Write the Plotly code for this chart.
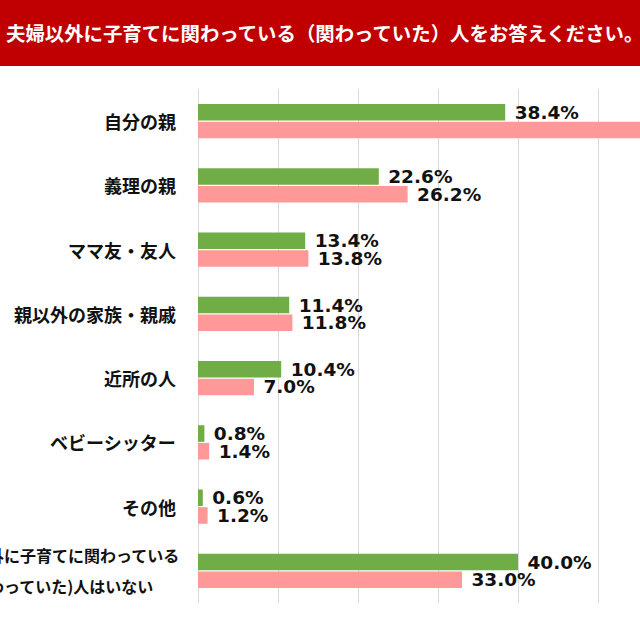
import plotly.graph_objects as go

categories = ["自分の親", "義理の親", "ママ友・友人", "親以外の家族・親戚", "近所の人",
              "ベビーシッター", "その他", "夫婦以外に子育てに関わっている\n(関わっていた)人はいない"]
series_a = [38.4, 22.6, 13.4, 11.4, 10.4, 0.8, 0.6, 40.0]
series_b = [57.0, 26.2, 13.8, 11.8, 7.0, 1.4, 1.2, 33.0]
title_text = "夫婦以外に子育てに関わっている（関わっていた）人をお答えください。"

W, H = 640, 640
L, R, T, B = 198, 0, 89, 37
pw, ph = W - L - R, H - T - B

JP = "Noto Sans CJK JP"
NUM = "DejaVu Sans"

fig = go.Figure()
for name, vals, col in [("系列1", series_a, "#70AD47"), ("系列2", series_b, "#FF9999")]:
    fig.add_trace(go.Bar(
        y=categories, x=vals, orientation="h", name=name,
        marker=dict(color=col, line=dict(width=0)),
        texttemplate="\u00a0%{x:.1f}%", textposition="outside",
        constraintext="none", cliponaxis=True,
        textfont=dict(family=NUM, size=18.5, color="#111111", weight="bold"),
        hoverinfo="skip",
    ))

# category labels
for c in categories:
    lines = c.split("\n")
    if len(lines) == 1:
        fig.add_annotation(x=(178 - L) / pw, xref="paper", y=c, yref="y", text=c,
                           xanchor="right", yanchor="middle", showarrow=False,
                           font=dict(family=JP, size=18, color="#111111", weight="bold"))
    else:
        # centered two-line label with wide spacing
        for i, ln in enumerate(lines):
            fig.add_annotation(x=(59 - L) / pw, xref="paper", y=c, yref="y", text=ln,
                               xanchor="center", yanchor="middle", showarrow=False,
                               yshift=15.5 if i == 0 else -15.5,
                               font=dict(family=JP, size=16, color="#111111", weight="bold"))

# header band
fig.add_shape(type="rect", xref="paper", yref="paper",
              x0=-L / pw - 0.01, x1=1.01, y0=1 + (T - 66) / ph, y1=1 + T / ph + 0.01,
              fillcolor="#C00000", line=dict(width=0), layer="above")
fig.add_annotation(x=(4 - L) / pw, xref="paper", y=1 + (T - 33) / ph, yref="paper",
                   text=title_text, xanchor="left", yanchor="middle", showarrow=False,
                   font=dict(family=JP, size=19.4, color="white", weight="bold"))

fig.update_layout(
    width=W, height=H, margin=dict(l=L, r=R, t=T, b=B, autoexpand=False),
    paper_bgcolor="white", plot_bgcolor="white",
    barmode="group", bargap=0.45, bargroupgap=0.06, showlegend=False,
    xaxis=dict(range=[0, pw / 8], dtick=10, tick0=0, showgrid=True, gridcolor="#D9D9D9",
               gridwidth=1, zeroline=True, zerolinecolor="#D9D9D9", zerolinewidth=1,
               showticklabels=False, ticks="", showline=False, fixedrange=True),
    yaxis=dict(range=[7.5, -0.5], showticklabels=False, ticks="", showgrid=False,
               zeroline=False, showline=False, fixedrange=True),
)

fig.write_html("out.html")
